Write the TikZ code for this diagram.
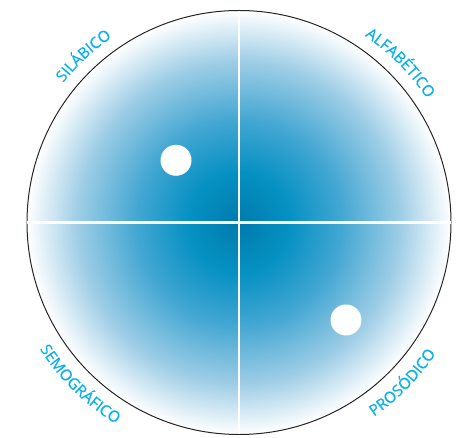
\documentclass[tikz,border=0pt]{standalone}
\usepackage{fontspec}
\setmainfont{Open Sans}
\newfontfamily\lblfont[LetterSpace=4,FakeBold=0.4]{Open Sans}
\usetikzlibrary{decorations.text}
\definecolor{lbl}{RGB}{10,176,236}
\definecolor{c0}{RGB}{0,122,172}
\definecolor{c1}{RGB}{6,145,195}
\definecolor{c2}{RGB}{66,166,210}
\definecolor{c3}{RGB}{158,205,230}
\pgfdeclareradialshading{disc}{\pgfpoint{0bp}{0bp}}{color(0bp)=(c0); color(6bp)=(c1); color(12bp)=(c2); color(19bp)=(c3); color(25bp)=(white); color(50bp)=(white)}
\tikzset{
  dot/.style={circle, fill=white, minimum size=31pt, inner sep=0pt},
  divider/.style={white, line width=2.2pt, shorten <=0.8pt, shorten >=0.8pt},
  toplabel/.style={decorate, decoration={text along path, text align=center,
     text={|\lblfont\fontsize{15.5}{15.5}\selectfont\color{lbl}|#1}}},
}
\begin{document}
\begin{tikzpicture}[x=1pt,y=1pt]
\useasboundingbox (0,0) rectangle (472,438);
\coordinate (O) at (239,215.5);
\node[circle, minimum size=424pt, inner sep=0pt, shading=disc, draw=black!85, line width=1pt] (disc) at (O) {};
\draw[divider] (disc.north) -- (disc.south);
\draw[divider] (disc.west) -- (disc.east);
\node[dot] (d1) at (176,277.7) {};
\node[dot] (d2) at (346,118) {};
\path[toplabel={SILÁBICO}] (O) ++(158:224.5) arc[start angle=158, end angle=108, radius=224.5];
\path[toplabel={ALFABÉTICO}] (O) ++(69.7:225) arc[start angle=69.7, end angle=19.7, radius=225];
\path[toplabel={SEMOGRÁFICO}] (O) ++(200.5:236) arc[start angle=200.5, end angle=250.5, radius=236];
\path[toplabel={PROSÓDICO}] (O) ++(290.6:236.5) arc[start angle=290.6, end angle=340.6, radius=236.5];
\end{tikzpicture}
\end{document}
